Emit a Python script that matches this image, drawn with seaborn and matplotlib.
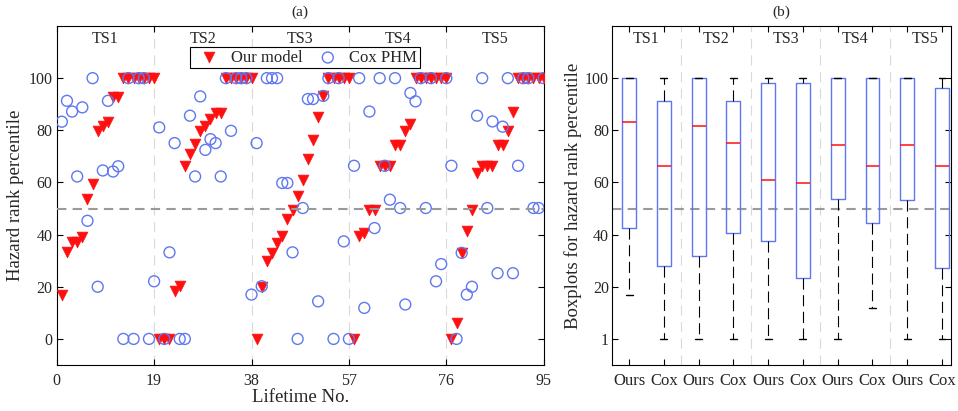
import numpy as np
import pandas as pd
import matplotlib
matplotlib.use("Agg")
import matplotlib.pyplot as plt
import seaborn as sns

# ---------------- data ----------------
ts_names = ["TS1", "TS2", "TS3", "TS4", "TS5"]

ours_ts1 = [16.7, 33.3, 37.0, 37.0, 38.9, 53.7, 59.3, 79.6, 81.5, 83.3, 92.6, 92.6,
            100, 100, 100, 100, 100, 100, 100]
cox_ts1 = [83.3, 91.3, 87.2, 62.3, 88.8, 45.3, 100, 20.0, 64.6, 91.3, 64.2, 66.2,
           0, 100, 0, 100, 100, 0, 22.1]

ours_ts2 = [0, 0, 0, 18.5, 20.4, 66.2, 70.9, 74.7, 79.8, 81.7, 84.3, 86.8, 86.8,
            100, 100, 100, 100, 100, 100]
cox_ts2 = [81.1, 0, 33.2, 75.1, 0, 0, 85.6, 62.3, 93.0, 72.5, 76.6, 75.1, 62.3,
           100, 79.8, 100, 100, 100, 17.0]

ours_ts3 = [0, 19.8, 29.8, 33.0, 36.8, 39.6, 46.0, 49.6, 54.9, 60.8, 69.0, 76.4,
            85.0, 93.2, 100, 100, 100, 100, 100]
cox_ts3 = [75.1, 20.2, 100, 100, 100, 59.8, 59.8, 33.2, 0, 50.2, 92.0, 92.0, 14.4,
           93.2, 100, 0, 100, 37.4, 0]

ours_ts4 = [0, 39.5, 40.7, 49.6, 49.6, 66.2, 66.2, 66.2, 74.5, 74.5, 79.6, 82.4,
            100, 100, 100, 100, 100, 100, 100]
cox_ts4 = [66.4, 100, 11.9, 87.2, 42.5, 100, 66.4, 53.4, 100, 50.2, 13.2, 94.3,
           91.1, 100, 50.2, 100, 22.1, 28.7, 100]

ours_ts5 = [0, 6.1, 33.0, 41.3, 49.6, 63.6, 66.2, 66.2, 66.2, 74.5, 74.5, 79.6,
            87.2, 100, 100, 100, 100, 100, 100]
cox_ts5 = [66.4, 0, 33.0, 17.0, 20.0, 85.6, 100, 50.2, 83.4, 25.2, 81.4, 100,
           25.2, 66.4, 100, 100, 50.2, 50.2, 100]

x_ticks = [0, 19, 38, 57, 76, 95]
y_ticks = [0, 20, 40, 60, 80, 100]
box_ytick_labels = ["1", "20", "40", "60", "80", "100"]
box_xtick_labels = ["Ours", "Cox"] * 5

ours_all = [ours_ts1, ours_ts2, ours_ts3, ours_ts4, ours_ts5]
cox_all = [cox_ts1, cox_ts2, cox_ts3, cox_ts4, cox_ts5]

df = pd.DataFrame({
    "lifetime": np.arange(1, 96),
    "ours": np.concatenate(ours_all),
    "cox": np.concatenate(cox_all),
    "ts": np.repeat(ts_names, 19),
})

# ---------------- style ----------------
sns.set_theme(style="ticks")
plt.rcParams["font.family"] = ["Liberation Serif", "DejaVu Serif"]
plt.rcParams["axes.linewidth"] = 0.8
plt.rcParams["axes.edgecolor"] = "black"

RED = "#ff1010"
BLUE = "#5f78f0"
FS_TICK = 11.5
FS_LABEL = 13.5

fig = plt.figure(figsize=(9.58, 4.11), dpi=100)
ax1 = fig.add_axes([56.7 / 958, 46 / 411, 487 / 958, 339 / 411])
ax2 = fig.add_axes([611.7 / 958, 46 / 411, 339 / 958, 339 / 411])

# ---------------- panel (a) ----------------
for b in x_ticks[1:-1]:
    ax1.axvline(b, color="#d9d9d9", lw=0.8, ls=(0, (9, 6)), zorder=0)

sns.scatterplot(data=df, x="lifetime", y="ours", marker="v", s=60, color=RED,
                edgecolor=RED, linewidth=0.5, label="Our model", ax=ax1, zorder=3)
sns.scatterplot(data=df, x="lifetime", y="cox", marker="o", s=62, color=BLUE,
                facecolor="none", edgecolor=BLUE, linewidth=1.0, label="Cox PHM",
                ax=ax1, zorder=4)
ax1.axhline(50, color="#9a9a9a", lw=1.5, ls=(0, (4.5, 3)), zorder=5)

for i, name in enumerate(ts_names):
    ax1.text(19 * i + 9.5, 115, name, ha="center", va="center", fontsize=11.5)

ax1.set_xlim(0, 95)
ax1.set_ylim(-10, 120)
ax1.set_xticks(x_ticks)
ax1.set_yticks(y_ticks)
ax1.tick_params(direction="in", top=True, right=True, length=4, width=0.8,
                labelsize=FS_TICK, color="black")
ax1.tick_params(axis="x", pad=6)
ax1.tick_params(axis="y", pad=3)
ax1.set_xlabel("Lifetime No.", fontsize=FS_LABEL, labelpad=0)
ax1.set_ylabel("Hazard rank percentile", fontsize=FS_LABEL, labelpad=3)
ax1.set_title("(a)", fontsize=11, pad=7)
leg = ax1.legend(loc="center", bbox_to_anchor=(0.51, 0.906), ncol=2, fontsize=12,
                 frameon=True, fancybox=False, framealpha=1, edgecolor="black",
                 handlelength=2.0, handletextpad=0.3, columnspacing=0.5,
                 borderpad=0.15, borderaxespad=0)
leg.get_frame().set_linewidth(0.8)
leg.set_zorder(10)

# ---------------- panel (b) ----------------
def box_stats(vals):
    v = np.asarray(vals, dtype=float)
    q1, med, q3 = np.percentile(v, [25, 50, 75], method="hazen")
    iqr = q3 - q1
    lo = v[v >= q1 - 1.5 * iqr].min()
    hi = v[v <= q3 + 1.5 * iqr].max()
    fl = v[(v < lo) | (v > hi)]
    return dict(med=med, q1=q1, q3=q3, whislo=lo, whishi=hi, fliers=fl)

stats = []
for o, c in zip(ours_all, cox_all):
    stats.append(box_stats(o))
    stats.append(box_stats(c))

positions = np.arange(1, 11)
for b in [2.5, 4.5, 6.5, 8.5]:
    ax2.axvline(b, color="#d9d9d9", lw=0.8, ls=(0, (9, 6)), zorder=0)
ax2.axhline(50, color="#9a9a9a", lw=1.5, ls=(0, (4.5, 3)), zorder=1)

ax2.bxp(stats, positions=positions, widths=0.4, capwidths=0.2,
        boxprops=dict(color=BLUE, lw=1.0),
        medianprops=dict(color=RED, lw=1.1),
        whiskerprops=dict(color="black", lw=0.8, ls=(0, (10, 5))),
        capprops=dict(color="black", lw=1.0),
        flierprops=dict(marker="+", markeredgecolor=RED),
        manage_ticks=False, zorder=3)

for i, name in enumerate(ts_names):
    ax2.text(2 * i + 1.5, 115, name, ha="center", va="center", fontsize=11.5)

ax2.set_xlim(0.5, 10.25)
ax2.set_ylim(-10, 120)
ax2.set_xticks(positions)
ax2.set_xticklabels(box_xtick_labels)
ax2.set_yticks(y_ticks)
ax2.set_yticklabels(box_ytick_labels)
ax2.tick_params(direction="in", top=True, right=True, length=4, width=0.8,
                labelsize=FS_TICK, color="black")
ax2.tick_params(axis="x", pad=6, labelsize=12)
ax2.tick_params(axis="y", pad=2)
ax2.set_ylabel("Boxplots for hazard rank percentile", fontsize=FS_LABEL, labelpad=2)
ax2.set_title("(b)", fontsize=11, pad=7)

fig.savefig("out.png", dpi=100)
